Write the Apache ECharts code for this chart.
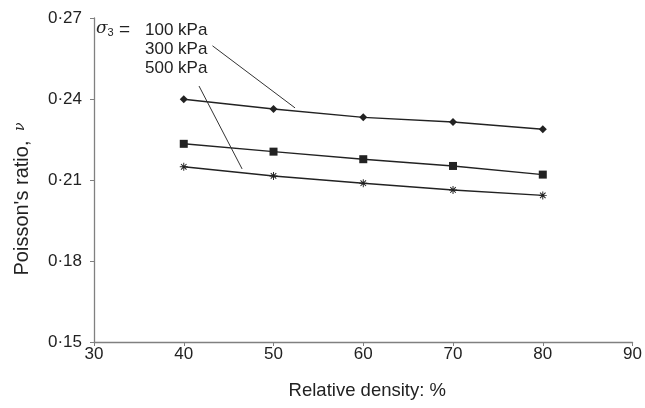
<!DOCTYPE html>
<html><head><meta charset="utf-8">
<script src="https://cdn.jsdelivr.net/npm/echarts@6/dist/echarts.min.js"></script>
<style>html,body{margin:0;padding:0;background:#fff}#c{width:645px;height:408px}</style>
</head><body><div id="c"></div>
<script>
const density = [40, 50, 60, 70, 80];
const nu100 = [0.2399, 0.2363, 0.2332, 0.2315, 0.2288];
const nu300 = [0.2234, 0.2205, 0.2177, 0.2152, 0.2120];
const nu500 = [0.2149, 0.2115, 0.2088, 0.2063, 0.2043];
const leader300 = [[43.2, 0.2597], [52.4, 0.2367]];
const leader500 = [[41.7, 0.2448], [46.5, 0.2141]];

const FONT = 'Liberation Sans, Arial, sans-serif';
const LINE = '#222';
const TXT = '#222';
const pair = (xs, ys) => xs.map((x, i) => [x, ys[i]]);
const asterisk = 'path://M-0.6,-5L0.6,-5L0.6,5L-0.6,5Z M-5,-0.6L5,-0.6L5,0.6L-5,0.6Z M-3.9,-3L-3,-3.9L3.9,3L3,3.9Z M3,-3.9L3.9,-3L-3,3.9L-3.9,3Z';

const chart = echarts.init(document.getElementById('c'), null, {renderer: 'canvas'});
const lineSeries = (name, ys, symbol, size) => ({
  name, type: 'line', data: pair(density, ys), symbol, symbolSize: size,
  showAllSymbol: true,
  lineStyle: {color: LINE, width: 1.4}, itemStyle: {color: LINE}, z: 3
});
chart.setOption({
  animation: false,
  grid: {left: 94, right: 9, top: 18, bottom: 66},
  xAxis: {
    type: 'value', min: 30, max: 90, interval: 10,
    name: 'Relative density: %', nameLocation: 'middle', nameGap: 39,
    nameTextStyle: {fontFamily: FONT, fontSize: 18.5, color: TXT, padding: [0, 0, 0, 8]},
    axisLine: {lineStyle: {color: '#808080', width: 1.3}},
    axisTick: {show: true, length: 4, lineStyle: {color: '#808080'}},
    axisLabel: {fontFamily: FONT, fontSize: 17, color: TXT, margin: 4},
    splitLine: {show: false}
  },
  yAxis: {
    type: 'value', min: 0.15, max: 0.27, interval: 0.03,
    name: "Poisson's ratio, {i|ν}", nameLocation: 'middle', nameGap: 62, nameRotate: 90,
    nameTextStyle: {fontFamily: FONT, fontSize: 20, color: TXT, padding: [0, 38, 0, 0],
      rich: {i: {fontFamily: 'DejaVu Serif, serif', fontStyle: 'italic', fontSize: 14, color: TXT, padding: [0, 0, 4, 4]}}},
    axisLine: {show: true, lineStyle: {color: '#808080', width: 1.3}},
    axisTick: {show: true, length: 4, lineStyle: {color: '#808080'}},
    axisLabel: {fontFamily: FONT, fontSize: 17, color: TXT, margin: 12,
      formatter: v => v.toFixed(2).replace('.', '·')},
    splitLine: {show: false}
  },
  series: [
    lineSeries('100 kPa', nu100, 'diamond', 8),
    lineSeries('300 kPa', nu300, 'rect', 8),
    lineSeries('500 kPa', nu500, asterisk, 8),
    {
      type: 'line', data: [], silent: true,
      markLine: {
        silent: true, symbol: ['none', 'none'], label: {show: false},
        lineStyle: {color: '#333', width: 1, type: 'solid'},
        data: [
          [{coord: leader300[0]}, {coord: leader300[1]}],
          [{coord: leader500[0]}, {coord: leader500[1]}]
        ]
      }
    }
  ],
  graphic: [
    {type: 'text', left: 96, top: 20, style: {
      text: '{s|σ}{sub|3}', fontFamily: FONT, fontSize: 17, fill: TXT,
      rich: {
        s: {fontFamily: 'DejaVu Serif, serif', fontStyle: 'italic', fontSize: 17, fill: TXT},
        sub: {fontFamily: FONT, fontSize: 11, padding: [9, 0, 0, 0], fill: TXT}
      }}},
    {type: 'text', left: 119, top: 20, style: {text: '=', fontFamily: FONT, fontSize: 19, fill: TXT}},
    {type: 'text', left: 145, top: 22, style: {text: '100 kPa', fontFamily: FONT, fontSize: 17, fill: TXT}},
    {type: 'text', left: 145, top: 41, style: {text: '300 kPa', fontFamily: FONT, fontSize: 17, fill: TXT}},
    {type: 'text', left: 145, top: 60, style: {text: '500 kPa', fontFamily: FONT, fontSize: 17, fill: TXT}}
  ]
});
</script></body></html>
